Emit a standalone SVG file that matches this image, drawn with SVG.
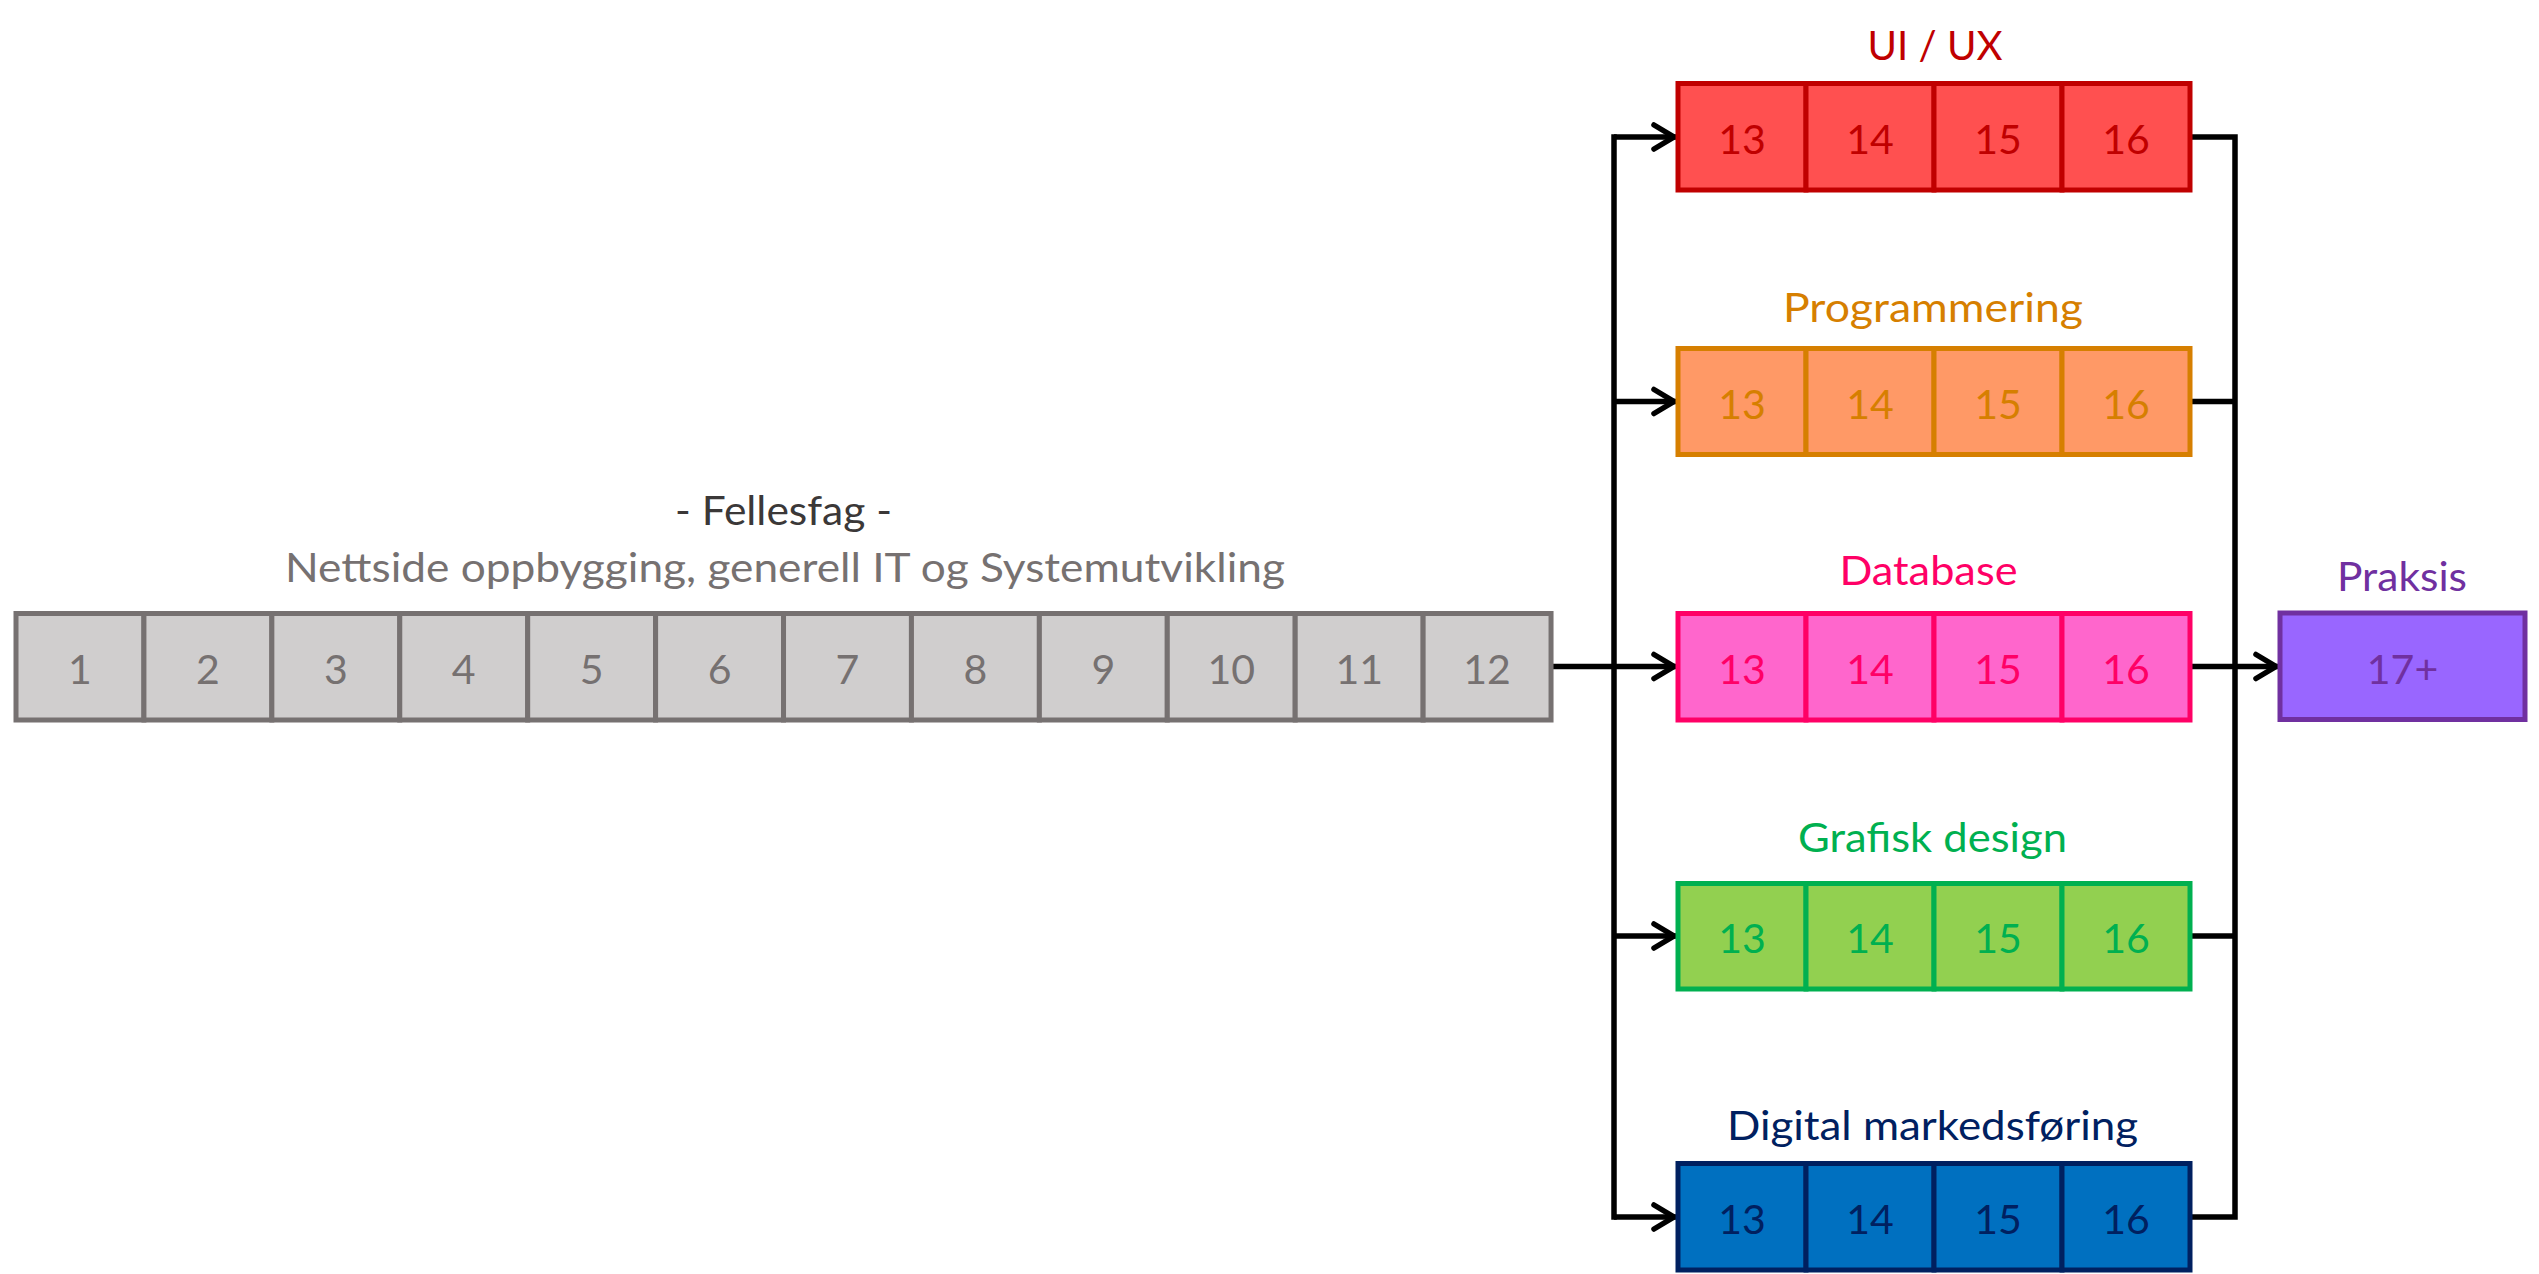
<svg xmlns="http://www.w3.org/2000/svg" width="2539" height="1274" viewBox="0 0 2539 1274">
<style>
text{font-family:Lato,"Liberation Sans",sans-serif;text-anchor:middle}
.num{font-size:41px}
.lbl{font-size:40px}
.cell{stroke-width:5}
.g rect{fill:#D0CECE;stroke:#767171}.g text{fill:#767171}
.ui rect{fill:#FF5050;stroke:#C00000}.ui text{fill:#C00000}
.pr rect{fill:#FF9966;stroke:#D67F00}.pr text{fill:#D67F00}
.db rect{fill:#FF66CC;stroke:#FF0066}.db text{fill:#FF0066}
.gd rect{fill:#92D050;stroke:#00B050}.gd text{fill:#00B050}
.dm rect{fill:#0070C0;stroke:#002060}.dm text{fill:#002060}
.pk rect{fill:#9966FF;stroke:#7030A0}.pk text{fill:#7030A0}
.conn path{fill:none;stroke:#000;stroke-width:5.5}
.arr{marker-end:url(#ah)}
</style>
<defs>
<marker id="ah" markerUnits="userSpaceOnUse" viewBox="-30 -18 34 36" markerWidth="34" markerHeight="36" refX="0" refY="0" orient="auto">
<path d="M-22,-12 L-2,0 L-22,12" fill="none" stroke="#000" stroke-width="5.5" stroke-linecap="round" stroke-linejoin="miter"/>
</marker>
</defs>

<g id="connectors" class="conn">
<path d="M1553,666.5 H1676" class="arr"/>
<path d="M1614,137 V1217" stroke-linecap="square"/>
<path d="M1614,137 H1676" class="arr"/>
<path d="M1614,401.5 H1676" class="arr"/>
<path d="M1614,936 H1676" class="arr"/>
<path d="M1614,1217 H1676" class="arr"/>
<path d="M2192,137 H2235 V1217 H2192" stroke-linejoin="miter"/>
<path d="M2192,401.5 H2235"/>
<path d="M2192,936 H2235"/>
<path d="M2192,666.5 H2278" class="arr"/>
</g>

<g id="fellesfag" class="g">
<text x="783.5" y="525" class="lbl" fill="#3B3838" style="fill:#3B3838" textLength="217" lengthAdjust="spacingAndGlyphs">- Fellesfag -</text>
<text x="785" y="582" class="lbl" textLength="1000" lengthAdjust="spacingAndGlyphs">Nettside oppbygging, generell IT og Systemutvikling</text>
<rect class="cell" x="16" y="613.5" width="127.92" height="106.5"/>
<rect class="cell" x="143.92" y="613.5" width="127.92" height="106.5"/>
<rect class="cell" x="271.84" y="613.5" width="127.92" height="106.5"/>
<rect class="cell" x="399.76" y="613.5" width="127.92" height="106.5"/>
<rect class="cell" x="527.68" y="613.5" width="127.92" height="106.5"/>
<rect class="cell" x="655.6" y="613.5" width="127.92" height="106.5"/>
<rect class="cell" x="783.52" y="613.5" width="127.92" height="106.5"/>
<rect class="cell" x="911.44" y="613.5" width="127.92" height="106.5"/>
<rect class="cell" x="1039.36" y="613.5" width="127.92" height="106.5"/>
<rect class="cell" x="1167.28" y="613.5" width="127.92" height="106.5"/>
<rect class="cell" x="1295.2" y="613.5" width="127.92" height="106.5"/>
<rect class="cell" x="1423.12" y="613.5" width="127.92" height="106.5"/>
<text class="num" x="80" y="683.5">1</text>
<text class="num" x="207.9" y="683.5">2</text>
<text class="num" x="335.8" y="683.5">3</text>
<text class="num" x="463.7" y="683.5">4</text>
<text class="num" x="591.6" y="683.5">5</text>
<text class="num" x="719.6" y="683.5">6</text>
<text class="num" x="847.5" y="683.5">7</text>
<text class="num" x="975.4" y="683.5">8</text>
<text class="num" x="1103.3" y="683.5">9</text>
<text class="num" x="1231.2" y="683.5">10</text>
<text class="num" x="1359.2" y="683.5">11</text>
<text class="num" x="1487.1" y="683.5">12</text>
</g>

<g id="uiux" class="ui">
<text class="lbl" x="1935" y="60" textLength="135" lengthAdjust="spacingAndGlyphs">UI / UX</text>
<rect class="cell" x="1678" y="83.5" width="128" height="106.5"/>
<rect class="cell" x="1806" y="83.5" width="128" height="106.5"/>
<rect class="cell" x="1934" y="83.5" width="128" height="106.5"/>
<rect class="cell" x="2062" y="83.5" width="128" height="106.5"/>
<text class="num" x="1742" y="153.5">13</text>
<text class="num" x="1870" y="153.5">14</text>
<text class="num" x="1998" y="153.5">15</text>
<text class="num" x="2126" y="153.5">16</text>
</g>

<g id="programmering" class="pr">
<text class="lbl" x="1933" y="322" textLength="300" lengthAdjust="spacingAndGlyphs">Programmering</text>
<rect class="cell" x="1678" y="348.5" width="128" height="106"/>
<rect class="cell" x="1806" y="348.5" width="128" height="106"/>
<rect class="cell" x="1934" y="348.5" width="128" height="106"/>
<rect class="cell" x="2062" y="348.5" width="128" height="106"/>
<text class="num" x="1742" y="418.5">13</text>
<text class="num" x="1870" y="418.5">14</text>
<text class="num" x="1998" y="418.5">15</text>
<text class="num" x="2126" y="418.5">16</text>
</g>

<g id="database" class="db">
<text class="lbl" x="1928.5" y="585" textLength="178" lengthAdjust="spacingAndGlyphs">Database</text>
<rect class="cell" x="1678" y="613.5" width="128" height="106.5"/>
<rect class="cell" x="1806" y="613.5" width="128" height="106.5"/>
<rect class="cell" x="1934" y="613.5" width="128" height="106.5"/>
<rect class="cell" x="2062" y="613.5" width="128" height="106.5"/>
<text class="num" x="1742" y="683.5">13</text>
<text class="num" x="1870" y="683.5">14</text>
<text class="num" x="1998" y="683.5">15</text>
<text class="num" x="2126" y="683.5">16</text>
</g>

<g id="grafisk" class="gd">
<text class="lbl" x="1932.5" y="852" textLength="269" lengthAdjust="spacingAndGlyphs">Grafisk design</text>
<rect class="cell" x="1678" y="883.5" width="128" height="105.5"/>
<rect class="cell" x="1806" y="883.5" width="128" height="105.5"/>
<rect class="cell" x="1934" y="883.5" width="128" height="105.5"/>
<rect class="cell" x="2062" y="883.5" width="128" height="105.5"/>
<text class="num" x="1742" y="953">13</text>
<text class="num" x="1870" y="953">14</text>
<text class="num" x="1998" y="953">15</text>
<text class="num" x="2126" y="953">16</text>
</g>

<g id="digital" class="dm">
<text class="lbl" x="1932.5" y="1140" textLength="411" lengthAdjust="spacingAndGlyphs">Digital markedsføring</text>
<rect class="cell" x="1678" y="1163.5" width="128" height="106.5"/>
<rect class="cell" x="1806" y="1163.5" width="128" height="106.5"/>
<rect class="cell" x="1934" y="1163.5" width="128" height="106.5"/>
<rect class="cell" x="2062" y="1163.5" width="128" height="106.5"/>
<text class="num" x="1742" y="1234">13</text>
<text class="num" x="1870" y="1234">14</text>
<text class="num" x="1998" y="1234">15</text>
<text class="num" x="2126" y="1234">16</text>
</g>

<g id="praksis" class="pk">
<text class="lbl" x="2402" y="591" textLength="130" lengthAdjust="spacingAndGlyphs">Praksis</text>
<rect class="cell" x="2280" y="613" width="245" height="106.5"/>
<text class="num" x="2402.5" y="683.5">17+</text>
</g>
</svg>
